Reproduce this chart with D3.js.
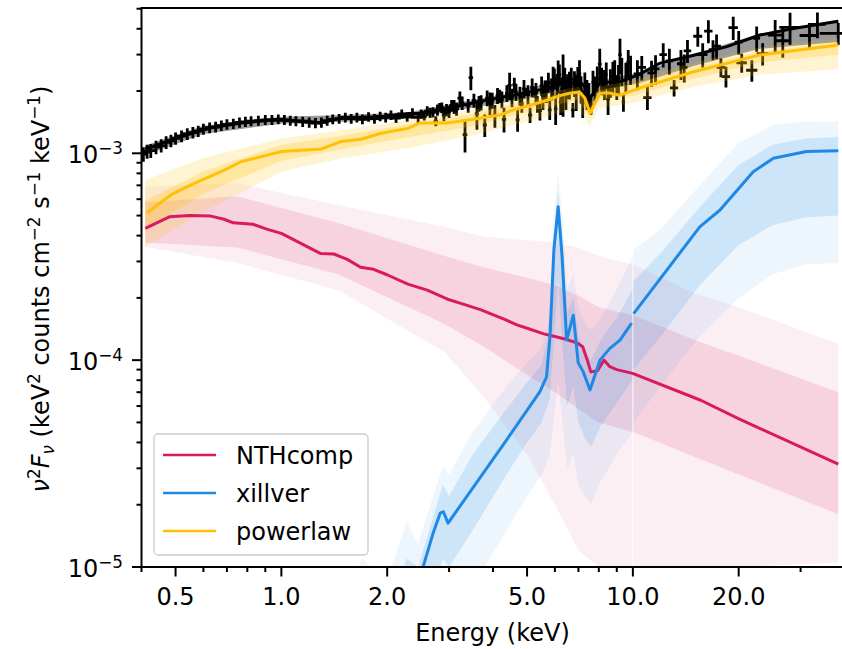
<!DOCTYPE html>
<html>
<head>
<meta charset="utf-8">
<script src="https://cdn.jsdelivr.net/npm/d3@7"></script>
<style>
  body { margin: 0; background: #fff; }
  text { font-family: "DejaVu Sans", sans-serif; fill: #000; }
</style>
</head>
<body>
<svg id="chart" width="842" height="649"></svg>
<script>
// ---- observed spectrum (energy keV, nu^2 F_nu, 1-sigma error, half bin width) ----
var dataE = [0.405,0.415,0.425,0.44,0.455,0.47,0.485,0.50,0.52,0.54,0.56,0.58,0.60,0.625,0.65,0.675,0.70,0.73,0.76,0.79,
  0.82,0.86,0.90,0.94,0.98,1.02,1.06,1.10,1.15,1.20,1.25,1.30,1.35,1.40,1.46,1.52,1.58,1.64,1.70,1.77,
  1.84,1.91,1.98,2.05,2.12,2.20,2.28,2.36,2.45,
  2.55,2.65,2.75,2.82,2.9,3.0,3.1,3.22,3.33,3.46,3.6,3.7,3.79,3.92,4.05,4.18,4.3,4.46,4.6,4.7,
  4.83,4.97,5.1,5.25,5.35,5.44,5.55,5.67,5.8,5.93,6.03,6.13,6.23,6.33,6.45,6.6,6.75,6.9,7.05,7.2,
  7.4,7.6,7.8,8.05,8.3,8.5,8.77,9.0,9.19,9.4,9.7,10.3,11.0,11.6,12.2,13.1,13.7,14.3,15.3,16.4,
  16.9,17.8,18.4,19.3,20.4,21.8,23.4,25.4,28.0,31.8,38.4,
  2.50,2.60,2.70,2.78,2.86,2.95,3.05,3.15,3.27,3.40,3.53,3.65,3.85,3.98,4.12,4.24,4.38,4.53,4.65,4.77,
  4.90,5.03,5.17,5.30,5.50,5.62,5.75,5.87,5.98,6.08,6.18,6.28,6.40,6.52,6.68,6.82,6.97,7.12,7.30,7.50,
  7.70,7.92,8.15,8.40,8.63,8.88,9.10,9.30,9.55,9.85,
  10.6,11.3,12.7,14.0,15.8,17.3,20.0,22.5,26.7,33.5];
var dataF = [0.99e-3,1.02e-3,1.03e-3,1.07e-3,1.09e-3,1.13e-3,1.15e-3,1.18e-3,1.21e-3,1.24e-3,1.26e-3,1.28e-3,1.31e-3,1.33e-3,1.34e-3,1.36e-3,1.38e-3,1.39e-3,1.41e-3,1.42e-3,
  1.43e-3,1.44e-3,1.45e-3,1.45e-3,1.46e-3,1.45e-3,1.44e-3,1.43e-3,1.42e-3,1.41e-3,1.40e-3,1.41e-3,1.44e-3,1.46e-3,1.47e-3,1.49e-3,1.47e-3,1.49e-3,1.46e-3,1.50e-3,
  1.47e-3,1.51e-3,1.49e-3,1.53e-3,1.48e-3,1.55e-3,1.50e-3,1.56e-3,1.49e-3,
  1.50e-3,1.57e-3,1.43e-3,1.68e-3,1.53e-3,1.59e-3,1.68e-3,1.85e-3,1.23e-3,2.32e-3,1.55e-3,1.76e-3,1.37e-3,1.75e-3,1.52e-3,1.89e-3,1.46e-3,2.13e-3,2.14e-3,1.45e-3,
  1.74e-3,1.98e-3,1.53e-3,1.98e-3,1.73e-3,1.61e-3,1.87e-3,2.00e-3,1.62e-3,2.26e-3,1.64e-3,2.38e-3,1.77e-3,2.25e-3,1.94e-3,2.15e-3,1.62e-3,2.00e-3,2.42e-3,1.75e-3,
  1.94e-3,1.72e-3,2.05e-3,2.70e-3,2.17e-3,1.83e-3,2.34e-3,2.10e-3,3.00e-3,1.77e-3,2.75e-3,2.42e-3,1.86e-3,2.56e-3,3.00e-3,2.07e-3,2.71e-3,3.13e-3,3.68e-3,3.90e-3,
  3.17e-3,2.60e-3,2.35e-3,4.05e-3,2.74e-3,2.52e-3,3.03e-3,3.73e-3,4.06e-3,3.71e-3,3.80e-3,
  1.55e-3,1.60e-3,1.58e-3,1.62e-3,1.66e-3,1.62e-3,1.70e-3,1.64e-3,1.75e-3,1.70e-3,1.80e-3,1.74e-3,1.85e-3,1.80e-3,1.90e-3,1.82e-3,1.95e-3,1.86e-3,1.98e-3,1.90e-3,
  2.05e-3,1.92e-3,2.08e-3,1.97e-3,2.12e-3,2.02e-3,2.20e-3,2.05e-3,2.30e-3,2.15e-3,2.40e-3,2.05e-3,2.30e-3,2.12e-3,2.28e-3,2.18e-3,2.30e-3,2.05e-3,2.15e-3,1.90e-3,
  2.20e-3,2.30e-3,2.25e-3,2.40e-3,2.20e-3,2.45e-3,2.30e-3,2.50e-3,2.35e-3,2.55e-3,
  2.60e-3,2.45e-3,2.80e-3,2.60e-3,3.00e-3,3.30e-3,3.45e-3,3.60e-3,3.50e-3,4.20e-3];
var dataErr = [0.08e-3,0.08e-3,0.08e-3,0.08e-3,0.08e-3,0.08e-3,0.08e-3,0.08e-3,0.08e-3,0.08e-3,0.08e-3,0.08e-3,0.08e-3,0.08e-3,0.08e-3,0.08e-3,0.08e-3,0.08e-3,0.08e-3,0.08e-3,
  0.08e-3,0.08e-3,0.08e-3,0.08e-3,0.08e-3,0.08e-3,0.08e-3,0.08e-3,0.08e-3,0.08e-3,0.08e-3,0.08e-3,0.08e-3,0.08e-3,0.08e-3,0.08e-3,0.08e-3,0.08e-3,0.08e-3,0.08e-3,
  0.08e-3,0.08e-3,0.08e-3,0.08e-3,0.08e-3,0.08e-3,0.08e-3,0.09e-3,0.09e-3,
  0.06e-3,0.09e-3,0.08e-3,0.07e-3,0.10e-3,0.11e-3,0.13e-3,0.14e-3,0.22e-3,0.30e-3,0.25e-3,0.15e-3,0.17e-3,0.22e-3,0.19e-3,0.14e-3,0.20e-3,0.32e-3,0.18e-3,0.18e-3,
  0.17e-3,0.09e-3,0.13e-3,0.12e-3,0.16e-3,0.17e-3,0.25e-3,0.25e-3,0.17e-3,0.36e-3,0.27e-3,0.43e-3,0.24e-3,0.75e-3,0.32e-3,0.33e-3,0.13e-3,0.40e-3,0.40e-3,0.27e-3,
  0.32e-3,0.19e-3,0.30e-3,0.50e-3,0.36e-3,0.30e-3,0.43e-3,0.29e-3,0.58e-3,0.18e-3,0.41e-3,0.40e-3,0.24e-3,0.42e-3,0.40e-3,0.19e-3,0.45e-3,0.40e-3,0.41e-3,0.50e-3,
  0.35e-3,0.27e-3,0.27e-3,0.52e-3,0.29e-3,0.30e-3,0.37e-3,0.68e-3,0.72e-3,0.55e-3,0.46e-3,
  0.08e-3,0.09e-3,0.09e-3,0.10e-3,0.10e-3,0.11e-3,0.11e-3,0.12e-3,0.13e-3,0.13e-3,0.14e-3,0.15e-3,0.16e-3,0.16e-3,0.17e-3,0.17e-3,0.18e-3,0.19e-3,0.19e-3,0.20e-3,
  0.21e-3,0.21e-3,0.22e-3,0.22e-3,0.23e-3,0.23e-3,0.25e-3,0.25e-3,0.27e-3,0.27e-3,0.29e-3,0.28e-3,0.29e-3,0.29e-3,0.31e-3,0.31e-3,0.31e-3,0.31e-3,0.31e-3,0.29e-3,
  0.31e-3,0.33e-3,0.34e-3,0.35e-3,0.35e-3,0.37e-3,0.37e-3,0.39e-3,0.39e-3,0.41e-3,
  0.35e-3,0.35e-3,0.40e-3,0.40e-3,0.40e-3,0.45e-3,0.45e-3,0.50e-3,0.60e-3,0.60e-3];
var dataDE = [0.012,0.012,0.013,0.013,0.014,0.014,0.015,0.015,0.016,0.016,0.017,0.017,0.018,0.019,0.020,0.020,0.021,0.022,0.023,0.024,
  0.025,0.026,0.027,0.028,0.029,0.031,0.032,0.033,0.035,0.036,0.038,0.039,0.041,0.042,0.044,0.046,0.047,0.049,0.051,0.053,
  0.055,0.057,0.059,0.062,0.064,0.066,0.068,0.071,0.074,
  0.04,0.04,0.04,0.04,0.04,0.04,0.05,0.05,0.05,0.05,0.05,0.05,0.05,0.06,0.06,0.06,0.06,0.06,0.06,0.06,
  0.06,0.06,0.07,0.07,0.07,0.07,0.07,0.07,0.07,0.07,0.07,0.07,0.07,0.07,0.08,0.08,0.08,0.08,0.08,0.08,
  0.09,0.09,0.09,0.10,0.10,0.10,0.10,0.10,0.10,0.10,0.12,0.25,0.30,0.30,0.30,0.35,0.35,0.35,0.45,0.45,
  0.45,0.5,0.5,0.6,0.7,0.8,0.9,1.2,1.9,2.0,4.4,
  0.05,0.05,0.05,0.05,0.05,0.05,0.05,0.05,0.05,0.05,0.05,0.05,0.05,0.05,0.05,0.05,0.05,0.05,0.05,0.05,
  0.07,0.07,0.07,0.07,0.07,0.07,0.07,0.07,0.07,0.07,0.07,0.07,0.07,0.07,0.07,0.07,0.07,0.07,0.07,0.07,
  0.07,0.07,0.07,0.07,0.07,0.07,0.07,0.07,0.07,0.07,
  0.3,0.3,0.3,0.3,0.5,0.5,0.5,0.5,1.2,1.8];

// ---- total model (black) ----
var totE   = [0.41,0.5,0.62,0.77,0.95,1.19,1.29,1.48,1.84,2.29,2.83,3.67,4.57,5.69,5.95,6.13,6.3,6.5,7.07,7.3,7.55,7.8,8.06,9.19,10.4,11.9,14.9,18.5,23,28.6,38.4];
var totMed = [1.05e-3,1.18e-3,1.32e-3,1.40e-3,1.45e-3,1.43e-3,1.40e-3,1.48e-3,1.48e-3,1.53e-3,1.62e-3,1.78e-3,1.91e-3,2.06e-3,2.12e-3,2.25e-3,2.15e-3,2.15e-3,2.22e-3,2.1e-3,1.85e-3,2.0e-3,2.2e-3,2.22e-3,2.4e-3,2.72e-3,2.98e-3,3.28e-3,3.73e-3,4.01e-3,4.35e-3];
var totBandE = [0.41,0.6,1.0,1.5,2.3,3.5,5,6.13,7.07,7.55,8.06,10.4,15,23,38.4];
var totHi    = [1.09e-3,1.36e-3,1.50e-3,1.53e-3,1.58e-3,1.81e-3,2.03e-3,2.3e-3,2.28e-3,1.90e-3,2.25e-3,2.45e-3,3.03e-3,3.79e-3,4.42e-3];
var totLo    = [0.98e-3,1.24e-3,1.39e-3,1.42e-3,1.47e-3,1.66e-3,1.84e-3,2.08e-3,2.06e-3,1.70e-3,2.0e-3,2.18e-3,2.65e-3,3.2e-3,3.45e-3];

// ---- NTHcomp ----
var nthE   = [0.41,0.48,0.55,0.63,0.687,0.73,0.83,0.913,1.0,1.136,1.29,1.41,1.54,1.68,1.83,2.005,2.29,2.6,2.97,3.24,3.7,3.93,4.3,4.68,5.1,5.58,6.0,6.36,6.95,7.2,7.42,7.59,7.93,8.28,8.6,9.0,9.98,15.6,19.9,38.4];
var nthMed = [4.34e-4,4.93e-4,5.0e-4,4.97e-4,4.8e-4,4.61e-4,4.54e-4,4.29e-4,4.1e-4,3.67e-4,3.28e-4,3.26e-4,3.07e-4,2.81e-4,2.75e-4,2.58e-4,2.33e-4,2.18e-4,1.97e-4,1.88e-4,1.75e-4,1.68e-4,1.58e-4,1.48e-4,1.41e-4,1.34e-4,1.30e-4,1.27e-4,1.21e-4,1.16e-4,1.0e-4,8.77e-5,8.9e-5,1.0e-4,9.3e-5,9.0e-5,8.63e-5,6.4e-5,5.23e-5,3.14e-5];
var nthBandE = [0.41,0.75,1.45,2.9,3.8,5,6,7,8,9.97,10,10.03,15,20,38.4];
var nthHi2 = [6.87e-4,7.16e-4,5.62e-4,4.41e-4,3.95e-4,3.8e-4,3.7e-4,3.5e-4,3.2e-4,2.9e-4,null,2.9e-4,2.1e-4,1.8e-4,1.2e-4];
var nthHi1 = [5.8e-4,6.2e-4,4.6e-4,3.2e-4,2.8e-4,2.5e-4,2.3e-4,2.05e-4,1.8e-4,1.65e-4,null,1.65e-4,1.25e-4,1.05e-4,7.0e-5];
var nthLo1 = [3.7e-4,3.5e-4,2.6e-4,1.5e-4,1.15e-4,8.5e-5,7.0e-5,5.8e-5,5.0e-5,4.5e-5,null,4.5e-5,3.4e-5,2.8e-5,1.8e-5];
var nthLo2 = [3.53e-4,2.95e-4,2.18e-4,1.1e-4,6.5e-5,3.5e-5,2.0e-5,1.2e-5,1.0e-5,1.0e-5,null,1.0e-5,1.0e-5,1.0e-5,1.05e-5];

// ---- xillver ----
var xilE   = [2.4,2.53,2.7,2.83,2.89,2.98,4.37,5.44,5.68,5.81,5.96,6.13,6.29,6.48,6.77,6.99,7.22,7.55,8.06,8.6,9.19,9.92,10,10.05,15.5,17.7,22.0,25.1,31.2,38.4];
var xilMed = [7e-6,1.0e-5,1.45e-5,1.82e-5,1.85e-5,1.63e-5,4.11e-5,7.05e-5,8.3e-5,1.30e-4,3.41e-4,5.52e-4,3.16e-4,1.25e-4,1.65e-4,9.7e-5,8.8e-5,7.18e-5,1.0e-4,1.14e-4,1.25e-4,1.51e-4,null,1.68e-4,4.41e-4,5.32e-4,8.15e-4,9.46e-4,1.02e-3,1.03e-3];
var xilBandE = [1.6,1.7,1.8,1.9,2.1,2.27,2.45,2.6,2.88,3.0,3.5,4.37,5.0,5.5,5.8,5.95,6.13,6.3,6.5,6.77,7.0,7.3,7.6,8.1,9.0,9.97,10,10.03,12,15.5,20,25,31,38.4];
var xilHi2 = [9e-6,1.1e-5,1.0e-5,8e-6,1.1e-5,1.65e-5,1.3e-5,1.8e-5,3.05e-5,2.8e-5,4.5e-5,7.5e-5,9.7e-5,1.15e-4,1.6e-4,5.0e-4,8.0e-4,5.0e-4,2.2e-4,2.6e-4,1.8e-4,1.5e-4,1.4e-4,1.6e-4,2.2e-4,3.16e-4,null,3.4e-4,4.3e-4,7.0e-4,1.12e-3,1.37e-3,1.42e-3,1.43e-3];
var xilHi1 = [5e-6,6e-6,6e-6,5e-6,7e-6,1.1e-5,1.0e-5,1.4e-5,2.5e-5,2.2e-5,3.5e-5,5.8e-5,7.8e-5,9.5e-5,1.4e-4,4.0e-4,6.5e-4,4.0e-4,1.7e-4,2.0e-4,1.3e-4,1.1e-4,1.0e-4,1.25e-4,1.6e-4,2.2e-4,null,2.4e-4,3.3e-4,5.5e-4,8.8e-4,1.1e-3,1.18e-3,1.2e-3];
var xilLo1 = [2e-6,2e-6,2e-6,2e-6,2e-6,3e-6,4e-6,6e-6,1.1e-5,1.0e-5,1.5e-5,2.8e-5,4.0e-5,5.0e-5,6.5e-5,1.2e-4,2.5e-4,1.2e-4,6.0e-5,7.5e-5,5.0e-5,4.2e-5,3.8e-5,4.8e-5,6.2e-5,8.0e-5,null,9.0e-5,1.3e-4,2.3e-4,3.6e-4,4.5e-4,4.9e-4,5.0e-4];
var xilLo2 = [1e-6,1e-6,1e-6,1e-6,1e-6,1e-6,1e-6,1e-6,1e-6,1e-6,8e-6,1.5e-5,2.2e-5,2.8e-5,3.5e-5,5e-5,8e-5,5e-5,3e-5,3.5e-5,2.5e-5,2.2e-5,2.0e-5,2.6e-5,3.5e-5,4.5e-5,null,5.0e-5,7.5e-5,1.3e-4,2.0e-4,2.6e-4,2.9e-4,2.95e-4];

// ---- powerlaw ----
var pwE   = [0.414,0.485,0.553,0.688,0.767,1.0,1.3,1.476,1.684,1.92,2.29,2.47,2.95,3.4,4.18,4.57,5.55,6.2,6.6,7.05,7.3,7.55,7.8,8.06,8.5,9.19,10.4,14.9,23.0,38.4];
var pwMed = [5.16e-4,6.29e-4,7.03e-4,8.3e-4,9.1e-4,1.02e-3,1.05e-3,1.14e-3,1.17e-3,1.25e-3,1.32e-3,1.40e-3,1.40e-3,1.45e-3,1.53e-3,1.62e-3,1.78e-3,1.90e-3,1.95e-3,1.98e-3,1.85e-3,1.56e-3,1.75e-3,1.95e-3,1.96e-3,1.91e-3,2.06e-3,2.48e-3,2.99e-3,3.34e-3];
var pwBandE = [0.41,0.6,1.0,1.5,2.3,3.5,5,7,7.55,8,10,15,23,38.4];
var pwHi2 = [7.43e-4,9.5e-4,1.18e-3,1.30e-3,1.45e-3,1.62e-3,1.88e-3,2.1e-3,1.75e-3,2.1e-3,2.25e-3,2.75e-3,3.25e-3,3.6e-3];
var pwHi1 = [5.9e-4,8.2e-4,1.10e-3,1.22e-3,1.38e-3,1.55e-3,1.80e-3,2.02e-3,1.66e-3,2.02e-3,2.17e-3,2.62e-3,3.1e-3,3.45e-3];
var pwLo1 = [4.3e-4,6.4e-4,9.2e-4,1.05e-3,1.2e-3,1.35e-3,1.58e-3,1.82e-3,1.48e-3,1.82e-3,1.9e-3,2.3e-3,2.75e-3,3.0e-3];
var pwLo2 = [3.53e-4,5.2e-4,8.15e-4,9.5e-4,1.06e-3,1.22e-3,1.42e-3,1.65e-3,1.35e-3,1.65e-3,1.75e-3,2.1e-3,2.4e-3,2.55e-3];

// ---- axes ----
var majorX = [0.5, 1, 2, 5, 10, 20];
var minorX = [0.4, 0.6, 0.7, 0.8, 0.9, 3, 4, 6, 7, 8, 9, 30, 40];
var majorY = [1e-5, 1e-4, 1e-3];
var yExp = ["\u22125", "\u22124", "\u22123"];
var legendNames = ["NTHcomp", "xillver", "powerlaw"];
var colors = {nth: "#d81b60", xil: "#1e88e5", pw: "#ffc107"};

var svg = d3.select("#chart");
var plotL = 141.5, plotR = 844.5, plotT = 8, plotB = 567;

var x = d3.scaleLog().domain([0.4, 40]).range([plotL, plotR]);
var y = d3.scaleLog().domain([1e-5, 5.04e-3]).range([plotB, plotT]);

svg.append("clipPath").attr("id", "plot")
  .append("rect").attr("x", plotL).attr("y", plotT).attr("width", plotR - plotL).attr("height", plotB - plotT);

var g = svg.append("g").attr("clip-path", "url(#plot)");

function zip(es, vs) {
  return es.map(function(e, i) { return [e, vs[i]]; });
}
function band(es, lo, hi) {
  return es.map(function(e, i) { return {e: e, lo: lo[i], hi: hi[i]}; });
}
var line = d3.line()
  .defined(function(d) { return d[1] != null; })
  .x(function(d) { return x(d[0]); })
  .y(function(d) { return y(d[1]); });
var area = d3.area()
  .defined(function(d) { return d.lo != null; })
  .x(function(d) { return x(d.e); })
  .y0(function(d) { return y(d.lo); })
  .y1(function(d) { return y(d.hi); });

// data error bars
var pts = dataE.map(function(e, i) {
  return {e: e, f: dataF[i], err: dataErr[i], de: dataDE[i]};
});
g.selectAll(".ev").data(pts).enter().append("line")
  .attr("x1", function(d) { return x(d.e); })
  .attr("x2", function(d) { return x(d.e); })
  .attr("y1", function(d) { return y(d.f - d.err); })
  .attr("y2", function(d) { return y(d.f + d.err); })
  .attr("stroke", "#000").attr("stroke-width", 2.8);
g.selectAll(".eh").data(pts).enter().append("line")
  .attr("x1", function(d) { return x(d.e - d.de); })
  .attr("x2", function(d) { return x(d.e + d.de); })
  .attr("y1", function(d) { return y(d.f); })
  .attr("y2", function(d) { return y(d.f); })
  .attr("stroke", "#000").attr("stroke-width", 2.8);

// total model
g.append("path").attr("d", area(band(totBandE, totLo, totHi)))
  .attr("fill", "#000").attr("opacity", 0.4);
g.append("path").attr("d", line(zip(totE, totMed)))
  .attr("fill", "none").attr("stroke", "#000").attr("stroke-width", 3);

// sample spreads
function drawBand(es, lo2, lo1, hi1, hi2, col, a2, a1) {
  g.append("path").attr("d", area(band(es, lo2, hi2))).attr("fill", col).attr("opacity", a2);
  g.append("path").attr("d", area(band(es, lo1, hi1))).attr("fill", col).attr("opacity", a1);
}
drawBand(nthBandE, nthLo2, nthLo1, nthHi1, nthHi2, colors.nth, 0.07, 0.13);
drawBand(xilBandE, xilLo2, xilLo1, xilHi1, xilHi2, colors.xil, 0.08, 0.15);
drawBand(pwBandE, pwLo2, pwLo1, pwHi1, pwHi2, colors.pw, 0.18, 0.25);

// medians
[[nthE, nthMed, colors.nth], [xilE, xilMed, colors.xil], [pwE, pwMed, colors.pw]].forEach(function(c) {
  g.append("path").attr("d", line(zip(c[0], c[1])))
    .attr("fill", "none").attr("stroke", c[2]).attr("stroke-width", 3)
    .attr("stroke-linejoin", "round");
});

// frame
var ax = svg.append("g").attr("stroke", "#000").attr("stroke-width", 2).attr("fill", "none");
ax.append("line").attr("x1", plotL).attr("x2", plotL).attr("y1", plotT).attr("y2", plotB);
ax.append("line").attr("x1", plotL - 1).attr("x2", plotR).attr("y1", plotB).attr("y2", plotB);
ax.append("line").attr("x1", plotL - 1).attr("x2", plotR).attr("y1", plotT).attr("y2", plotT);
ax.append("line").attr("x1", plotR).attr("x2", plotR).attr("y1", plotT).attr("y2", plotB);

// x ticks
ax.selectAll(".xmaj").data(majorX).enter().append("line")
  .attr("x1", x).attr("x2", x).attr("y1", plotB).attr("y2", plotB + 9.5);
ax.selectAll(".xmin").data(minorX).enter().append("line")
  .attr("x1", x).attr("x2", x).attr("y1", plotB).attr("y2", plotB + 5);
svg.selectAll(".xlab").data(majorX).enter().append("text")
  .attr("x", x).attr("y", 605).attr("text-anchor", "middle")
  .style("font-size", "24px")
  .text(function(d) { return d3.format(".1f")(d); });

// y ticks
var minorY = [];
[1e-5, 1e-4, 1e-3].forEach(function(dec) {
  for (var k = 2; k <= 9; k++) if (dec * k <= 5.04e-3) minorY.push(dec * k);
});
ax.selectAll(".ymaj").data(majorY).enter().append("line")
  .attr("x1", plotL - 9.5).attr("x2", plotL).attr("y1", y).attr("y2", y);
ax.selectAll(".ymin").data(minorY).enter().append("line")
  .attr("x1", plotL - 5).attr("x2", plotL).attr("y1", y).attr("y2", y);
majorY.forEach(function(v, i) {
  var t = svg.append("text").attr("x", 123).attr("y", y(v) + 10).attr("text-anchor", "end")
    .style("font-size", "24px");
  t.append("tspan").text("10");
  t.append("tspan").attr("dy", -9).style("font-size", "16.8px").text(yExp[i]);
});

// axis labels
svg.append("text").attr("x", (plotL + plotR) / 2 - 0.5).attr("y", 640.5)
  .attr("text-anchor", "middle").style("font-size", "24px").text("Energy (keV)");

var yl = svg.append("text").attr("transform", "translate(49,289) rotate(-90)")
  .attr("text-anchor", "middle").style("font-size", "24px");
var parts = [
  ["\u03bd", 0, 1, true], ["2", -9, 0.7, false], ["F", 9, 1, true], ["\u03bd", 5, 0.7, true],
  [" (keV", -5, 1, false], ["2", -9, 0.7, false], [" counts cm", 9, 1, false],
  ["\u22122", -9, 0.7, false], [" s", 9, 1, false], ["\u22121", -9, 0.7, false],
  [" keV", 9, 1, false], ["\u22121", -9, 0.7, false], [")", 9, 1, false]
];
parts.forEach(function(p) {
  yl.append("tspan").attr("dy", p[1]).style("font-size", (24 * p[2]) + "px")
    .style("font-style", p[3] ? "italic" : "normal").text(p[0]);
});

// legend
var lg = svg.append("g");
lg.append("rect").attr("x", 154).attr("y", 434).attr("width", 214).attr("height", 121)
  .attr("rx", 4).attr("fill", "#fff").attr("fill-opacity", 0.8)
  .attr("stroke", "#cccccc").attr("stroke-width", 1.3);
var legendColors = [colors.nth, colors.xil, colors.pw];
legendNames.forEach(function(name, i) {
  var ly = 455 + i * 38;
  lg.append("line").attr("x1", 163).attr("x2", 216).attr("y1", ly).attr("y2", ly)
    .attr("stroke", legendColors[i]).attr("stroke-width", 2.5);
  lg.append("text").attr("x", 236).attr("y", ly + 8.5).style("font-size", "24px").text(name);
});
</script>
</body>
</html>
